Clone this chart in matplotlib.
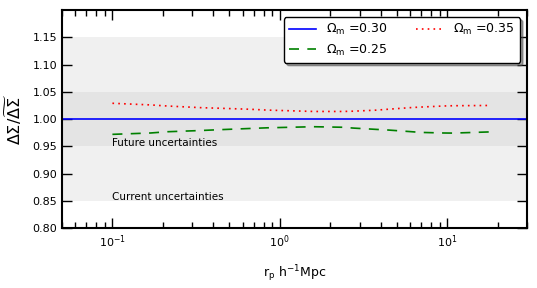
import numpy as np
import matplotlib
matplotlib.use("Agg")
import matplotlib.pyplot as plt

# separations r_p [h^-1 Mpc] and ratios
rp = [0.1, 0.169, 0.213, 0.335, 0.424, 0.667, 0.842, 1.59, 2.39, 2.75, 3.82, 4.4, 6.03, 6.9, 9.47, 10.8, 18.1]
ratio_035 = [1.029, 1.026, 1.024, 1.021, 1.020, 1.018, 1.0165, 1.014, 1.014, 1.0145, 1.0165, 1.018, 1.021, 1.022, 1.024, 1.0245, 1.025]
ratio_025 = [0.972, 0.9745, 0.9768, 0.979, 0.9804, 0.9828, 0.984, 0.986, 0.985, 0.9835, 0.981, 0.980, 0.9770, 0.9756, 0.9745, 0.9743, 0.9765]

ylims = [0.80, 1.20]
xlims = [0.05, 30.]
current_band = [0.85, 1.15]
future_band = [0.95, 1.05]
yticks = [0.80, 0.85, 0.90, 0.95, 1.00, 1.05, 1.10, 1.15]

fig = plt.figure(figsize=(5.37, 2.88), dpi=100)
ax = fig.add_axes([0.1155, 0.208, 0.866, 0.757])

# uncertainty bands
ax.axhspan(current_band[0], current_band[1], color='#f0f0f0', lw=0, zorder=0)
ax.axhspan(future_band[0], future_band[1], color='#e4e4e4', lw=0, zorder=0)
ax.text(0.1, 0.957, 'Future uncertainties', fontsize=7.5, va='center', ha='left')
ax.text(0.1, 0.857, 'Current uncertainties', fontsize=7.5, va='center', ha='left')

ax.axhline(1.0, color='b', lw=1.2, label=r'$\Omega_{\rm m}$ =0.30')
ax.plot(rp, ratio_025, color='g', ls=(0, (6, 5)), lw=1.2, label=r'$\Omega_{\rm m}$ =0.25')
ax.plot(rp, ratio_035, color='r', ls=(0, (1, 2.5)), lw=1.2, label=r'$\Omega_{\rm m}$ =0.35')

ax.set_xscale('log')
ax.set_xlim(xlims)
ax.set_ylim(ylims)
ax.set_yticks(yticks)
ax.set_yticklabels(['%.2f' % v for v in yticks])

ax.tick_params(which='both', direction='in', top=True, right=True, labelsize=8)
ax.tick_params(which='major', length=7, width=1)
ax.tick_params(which='minor', length=4, width=1)
ax.tick_params(axis='y', which='minor', left=False, right=False)
for s in ax.spines.values():
    s.set_linewidth(1.5)

ax.set_xlabel(r'r$_{\rm p}$ h$^{-1}$Mpc', fontsize=9, labelpad=10)
ax.set_ylabel(r'$\Delta\Sigma/\widetilde{\Delta\Sigma}$', fontsize=11.5, labelpad=6)

leg = ax.legend(loc='upper right', ncol=2, fontsize=9, frameon=True, fancybox=True,
                shadow=True, handlelength=2.2, columnspacing=2.2, labelspacing=0.45,
                borderaxespad=0, bbox_to_anchor=(0.985, 0.968))
leg.get_frame().set_edgecolor('k')
leg.get_frame().set_linewidth(1.0)
leg.get_frame().set_alpha(1.0)

plt.savefig('out.png', dpi=100)
